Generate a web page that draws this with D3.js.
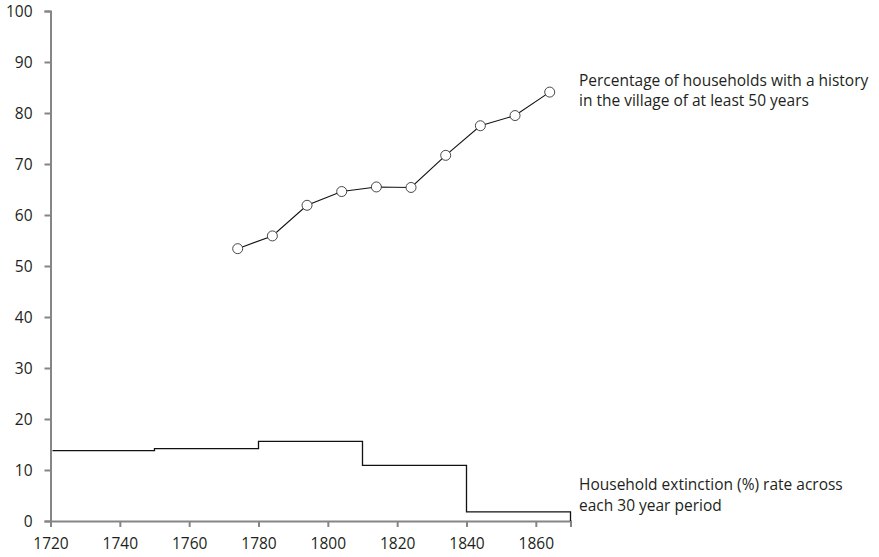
<!DOCTYPE html>
<html>
<head>
<meta charset="utf-8">
<script src="https://cdn.jsdelivr.net/npm/d3@7"></script>
<style>
  body { margin: 0; background: #fff; }
  text { font-family: "Open Sans", sans-serif; }
</style>
</head>
<body>
<div id="chart"></div>
<script>
var width = 879;
var height = 557;

// step series: household extinction per 30 year period
var periodStart = [1720, 1750, 1780, 1810, 1840];
var periodEnd = [1750, 1780, 1810, 1840, 1870];
var extinction = [13.8, 14.2, 15.6, 10.9, 1.8];

// line series: households with at least 50 years history
var years = [1774, 1784, 1794, 1804, 1814, 1824, 1834, 1844, 1854, 1864];
var histPct = [53.4, 55.9, 61.9, 64.6, 65.5, 65.4, 71.7, 77.5, 79.5, 84.1];

var xTicks = [1720, 1740, 1760, 1780, 1800, 1820, 1840, 1860];
var yTicks = [0, 10, 20, 30, 40, 50, 60, 70, 80, 90, 100];

var svg = d3.select("#chart").append("svg")
    .attr("width", width)
    .attr("height", height);

var x = d3.scaleLinear().domain([1720, 1870]).range([50.5, 570.5]);
var y = d3.scaleLinear().domain([0, 100]).range([521, 11]);

var axisColor = "#858585";

// y axis
var yAxis = svg.append("g")
    .attr("transform", "translate(" + x(1720) + ",0)")
    .call(d3.axisLeft(y).tickValues(yTicks).tickSize(6).tickPadding(12));
// x axis
var xAxis = svg.append("g")
    .attr("transform", "translate(0," + y(0) + ")")
    .call(d3.axisBottom(x).tickValues(xTicks).tickSize(6).tickPadding(11).tickFormat(d3.format("d")));

[yAxis, xAxis].forEach(function(a) {
  a.attr("font-size", null).attr("font-family", null);
  a.select(".domain").attr("stroke", axisColor).attr("stroke-width", 2);
  a.selectAll(".tick line").attr("stroke", axisColor).attr("stroke-width", 2);
  a.selectAll(".tick text")
    .style("font-size", "15.5px")
    .attr("fill", "#231f20");
});
yAxis.selectAll(".tick text").attr("dy", "0.38em");

// step line
var stepPts = [];
periodStart.forEach(function(s, i) {
  stepPts.push([x(s), y(extinction[i])]);
  stepPts.push([x(periodEnd[i]), y(extinction[i])]);
});
stepPts.push([x(periodEnd[periodEnd.length - 1]), y(0)]);
stepPts[0][0] += 2;

svg.append("path")
    .attr("d", d3.line()(stepPts))
    .attr("fill", "none")
    .attr("stroke", "#111")
    .attr("stroke-width", 1.3);

// history line
var line = d3.line()
    .x(function(d, i) { return x(years[i]); })
    .y(function(d) { return y(d); });

svg.append("path")
    .attr("d", line(histPct))
    .attr("fill", "none")
    .attr("stroke", "#111")
    .attr("stroke-width", 1.1);

svg.selectAll("circle.pt").data(histPct).enter().append("circle")
    .attr("class", "pt")
    .attr("cx", function(d, i) { return x(years[i]); })
    .attr("cy", function(d) { return y(d); })
    .attr("r", 5)
    .attr("fill", "#fff")
    .attr("stroke", "#333")
    .attr("stroke-width", 0.9);

// annotations
var notes = [
  {x: 579, y: 86, t: "Percentage of households with a history"},
  {x: 579, y: 106, t: "in the village of at least 50 years"},
  {x: 579, y: 490, t: "Household extinction (%) rate across"},
  {x: 579, y: 511, t: "each 30 year period"}
];
svg.selectAll("text.note").data(notes).enter().append("text")
    .attr("class", "note")
    .attr("x", function(d) { return d.x; })
    .attr("y", function(d) { return d.y; })
    .text(function(d) { return d.t; })
    .style("font-size", "15.5px")
    .attr("fill", "#231f20");
</script>
</body>
</html>
